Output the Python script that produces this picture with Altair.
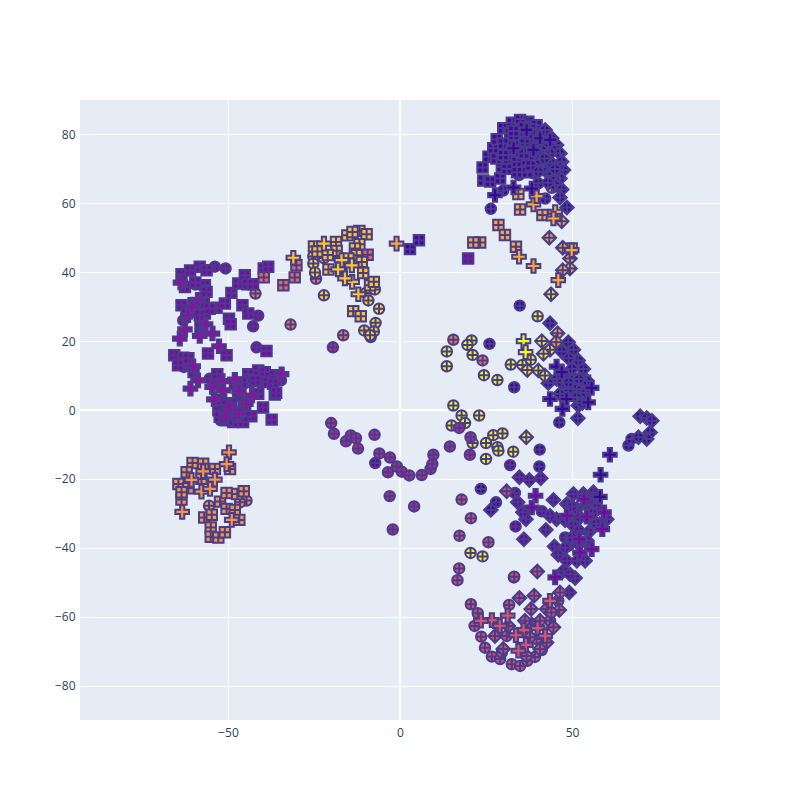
import altair as alt
import pandas as pd

X_TICKS = [-50, 0, 50]
Y_TICKS = [-80, -60, -40, -20, 0, 20, 40, 60, 80]
PLASMA = ["#0d0887", "#46039f", "#7201a8", "#9c179e", "#bd3786",
          "#d8576b", "#ed7953", "#fb9f3a", "#fdca26", "#f0f921"]

# Symbol outlines, unit box -1..1
SYMBOLS = {
    "circle": "M-.769,0A.769,.769 0 1,1 .769,0A.769,.769 0 1,1 -.769,0ZM-.769,0H.769M0,-.769V.769",
    "square": "M-.769,-.769H.769V.769H-.769ZM-.769,0H.769M0,-.769V.769",
    "diamond": "M-1,0L0,-1L1,0L0,1ZM-1,0H1M0,-1V1",
    "cross": "M-1,-.308H-.308V-1H.308V-.308H1V.308H.308V1H-.308V.308H-1Z",
}

# ---- circles ----
C_LEFT = [(-50.7,41.1),(-53.8,41.6),(-59.4,36.4),(-41.2,27.4),(-42.7,24.3),(-41.7,18.2),(-62.8,12.5),
          (-55.3,9.1),(-34.6,8.6),(-52.1,-3),(-63,26)]
C_ORANGE_TOP = [(-42,33.8),(-31.8,24.8),(-24.4,38.1),(-16.5,21.7),(15.5,20.4),(24,14.4),(44.1,64.5)]
C_YELLOW_TOP = [(-25.2,44.6),(-25.2,42.5),(-22.1,44.1),(-24.7,39.9),(-22.1,33.3),(-9.9,34),(-7.3,35),
                (-9.2,31.8),(-6.1,29.4),(-7.1,25.3),(-10.4,23.1),(-7.6,22.8),(-8.5,21.2),(-8.7,21.7)]
C_YELLOW_MID = [(40,27.2),(20.8,20.2),(19.6,18.9),(13.6,17),(21.1,16),(13.6,12.7),(24.4,10.1),(28.3,8.7),
                (32.2,13.2),(35.6,13.1),(38,14.6),(15.5,1.3),(17.9,-1.6),(18.9,-3.8),(15,-4.5),(23,-1.6),
                (27.1,-7.3),(29.8,-6.8),(25,-9.6),(21.1,-9.6),(28.3,-10.8),(28.6,-11.8),(32.9,-12.1),
                (25,-14.2),(20.5,-41.5),(24,-42.5)]
C_ARCH = [(-20,-3.8),(-19.2,-6.9),(-15.7,-9.1),(-14.3,-7.4),(-12.8,-8.2),(-12.2,-11.2),(-7.4,-7.2),(-6,-12.6),
          (-2.9,-13.8),(-3.5,-18.1),(-0.9,-16.4),(0.5,-17.9),(2.7,-19),(6.3,-18.9),(8.9,-17.1),(9.4,-15.7),
          (9.7,-13),(-3,-25),(4.1,-28),(-2.1,-34.7),(-19.5,18.2),(17.2,-5.2),(20.5,-7.9),(14.5,-10.6),(20.3,-13)]
C_PINK = [(17.9,-26),(20.6,-31.4),(17.3,-36.5),(25.7,-38.4),(17.2,-46),(16.7,-49.4),(33.1,-48.6),(33.2,-48.4),
          (20.6,-56.4),(22.6,-59),(31.7,-56.6),(21.7,-62.7),(23.6,-65.8),(24.7,-69),(26.7,-71.6),(29.1,-72.3),
          (32.5,-73.8),(34.9,-74.3),(37,-72.8),(39.2,-71.7),(41.2,-69.7),(39.7,-66.5),(43.6,-61.2),(46,-55.4),
          (31,-65.6),(29.6,-70.4)]
C_PURPLE = [(-7.2,-15.4),(32,-16),(33.6,-33.8),(33.4,-24.1),(41.2,-29.4),(48,-37),(49,-39.4)]
C_DARK = [(26.4,58.4),(30,63.7),(34.6,68.2),(38.8,68.7),(42.2,61.4),(40.2,65.8),(35.9,70.1),(34.8,30.3),(26,19.2),
          (33.2,6.6),(46.3,-3.6),(40.6,-11.5),(40.5,-16.4),(66.4,-10.3),(67.3,-8.4),(23.5,-22.9),(27.9,-26.8)]
C_ORANGE_LOW = [(-55.5,-27.8),(-44.6,-26.3),(-46.5,-26.8)]

# ---- squares ----
S_LEFT = [(-63.5,39.4),(-58.2,41.6),(-56.2,40.6),(-56.7,36.2),(-56.2,34.3),(-63.5,30.4),(-56.7,28),(-53.3,29.7),
          (-50.9,30.9),(-49,34),(-47,36.7),(-45.1,39.1),(-44.4,36.5),(-42.7,36.5),(-39.6,41.1),(-38.3,41.6),
          (-45.8,30.4),(-44.1,28),(-49.7,26.5),(-49.2,24.9),(-55.8,16.4),(-50.4,15.9),(-65.6,15.9),(-63,15.2),
          (-64.5,13),(-38.8,17.1),(-53.1,10.4),(-44.1,10.4),(-41.2,11.5),(-39.3,11),(-44.1,8.1),(-39.8,8.1),
          (-36.4,10.1),(-36.9,7.6),(-36.4,4.5),(-41.2,4.7),(-39.8,0.7),(-43.2,-1.8),(-37.3,-2.8),(-45.6,-3.5),
          (-48.5,-3.5),(-52.8,-0.1),(-52.4,-2),(-50,-3),(-58.2,27.5),(-55.3,29.4),(-62.5,35.7),(-61,40.5),
          (-59.5,37),(-60,31),(-57,31),(-62,28),(-61.5,15),(-60,11),(-58,24),(-48,7.5),(-46,8),(-42,8.5),
          (-36,5),(-47,4),(-45,1.5),(-49,2),(-50.5,-1),(-47,-1),(-52,3),(19.8,44)]
S_ORANGE_TOP = [(-39.6,38.5),(-33.9,36.2),(-30.6,38.5),(-30.1,42),(-9.4,45.1)]
S_YELLOW = [(-25,47.5),(-15.3,50.7),(-11.8,52),(-9.7,51),(-13.8,51.7),(-18.6,48.8),(-18.4,46.2),(-11.8,48.1),
            (-13.1,46.9),(-12.6,44.9),(-11.1,43),(-20.8,40.8),(-10.7,39.8),(-8.7,36.2),(-7.6,37.2),(-13.6,28.7),
            (-11.4,27.2),(-24,46),(-21,45),(-17,41),(-15,44)]
S_DARK = [(2.9,46.7),(5.5,49.3),(24,70.4),(24.2,66.6),(26.2,66.3),(29.1,67.2),(29.6,70.6),(25.7,73.5),(27.1,76),
          (28.1,78.6),(30,81.8),(32.5,83.4),(34.9,84.2),(37.3,83.7),(39.7,82.7),(32,80.3),(34.9,80.8),(30,77.4),
          (32.5,75.5),(31.5,72.6),(33.9,72.1),(36.8,72.6),(36.3,77.4),(39.2,77.9),(33,78.4),(37.3,80.3),(40.2,80.3),
          (35,75),(38,75),(31,70),(34,69),(37,69),(28,73),(30,74),(35,83),(33,81),(36,82),(38,81.5),(41,79),
          (42,77),(39,74),(36,74.5),(40,71),(38,71),(53.8,8.5),(50.9,4.2)]
S_GOLD = [(34.9,58.2),(41.4,56.6),(28.6,53.7),(30.5,50.8),(33.7,47.4),(23.3,48.6),(21.3,48.6),(34.4,62.7),(49.9,46.9)]
S_ORANGE_LOW = [(-60.3,-15.4),(-57.2,-15.6),(-53.8,-17.1),(-62,-18.1),(-64.4,-21.5),(-61.5,-22.7),(-63.5,-26),
                (-49.4,-17.1),(-57.7,-20),(-52.3,-26.6),(-50.4,-24.1),(-47.3,-24.4),(-45.4,-23.6),(-50.4,-28.7),
                (-48,-29),(-46.7,-31.9),(-56.9,-31.2),(-54.7,-30.4),(-55,-34.1),(-55,-36.8),(-52.8,-37),
                (-50.9,-35.5),(-63.5,-23.9)]

# ---- diamonds ----
D_DARK = [(42.2,81.3),(44.1,78.9),(45.5,76.9),(46.5,74.5),(47,72.1),(47.5,69.7),(46.5,67.2),(45,65.3),(43.1,77.4),
          (43.6,74.5),(44.1,71.6),(42.6,69.2),(40.7,72.6),(40.2,69.2),(41.2,75.5),(42,73),(44,68),(45,70),(43,66),
          (47,64),(46.5,61.7),(48.5,58.8),
          (43.6,25.2),(48.9,19.7),(50.4,17.5),(51.8,14.4),(53.3,11.9),(49.4,10.3),(45.5,9),(43.1,7.8),(54.3,8.5),
          (51.4,6.1),(48.9,6.1),(46.5,4.7),(51.4,3.7),(51.8,1.3),(51.7,-2.4),(47,17),(49,15),(50,12),(52,9),(47,8),
          (49,8),(54,5),(53,2),(69.8,-1.8),(71.7,-2.3),(73.2,-3.1),
          (72.7,-6.5),(71.7,-8.4),(69.3,-7.9),(26.4,-29)]
D_GOLD = [(47,54.8),(43.4,50),(47.3,47.1),(49.4,44),(49.4,41.1),(47.3,40.6),(45.8,22.3),(45.4,19.7)]
D_YELLOW = [(43.9,33.6),(41.2,20),(43.6,17.5),(41.7,16.3),(37,11.6),(40.2,11.5),(42.1,10),(36.7,-7.9)]
D_PURPLE = [(34.7,-19.5),(37.6,-20.3),(40.9,-19.8),(34.2,-26.8),(44.6,-26.1),(36.6,-31.7),(35.7,-29.7),(42.4,-34.8),
            (36,-37.5),(44.9,-39.6),(50.4,-24.4),(53.3,-24.4),(56.2,-23.9),(48.5,-27.3),(51.4,-28.7),(54.3,-27.3),
            (57.2,-28.3),(60.1,-31.7),(58.1,-33.1),(55.2,-31.2),(52.3,-31.2),(50.4,-33.6),(45.5,-31.7),(43.6,-30.7),
            (54.8,-35.5),(54.3,-37.9),(48.5,-43.8),(51.4,-43.8),(53.8,-43.8),(47.5,-46.7),(50.9,-48.8),(49.4,-47.7),
            (49.2,-53),(56,-30),(52,-35),(50,-28),(57,-33),(55,-26),(48,-32),(52,-39),(50,-37),(46,-42),(48,-40)]
D_PINK = [(31,-23.6),(39.9,-46.9),(34.7,-54.6),(39,-53.9),(38.1,-57.8),(27.6,-65.6),(30,-69.4),(31.5,-62.7),
          (38.3,-62.2),(40.7,-61.2),(42.6,-57.8),(46.5,-53),(46.3,-58.1),(44.6,-63.1),(42.6,-67.5),(37.8,-66),
          (40.7,-69.4),(36.8,-71.4),(36.3,-61.2),(44,-58.8)]

# ---- crosses ----
X_LEFT = [(-63.8,37),(-58.7,32),(-60.4,29.9),(-61.6,27.5),(-62.5,23.4),(-56.5,24.9),(-64,20.7),(-58.2,21.5),
          (-54.5,22.2),(-52.6,18.5),(-60.1,12.7),(-58.7,8.6),(-60.9,6.2),(-54.6,6.7),(-51.6,8.4),(-48,8.8),
          (-51.4,5.7),(-46.8,5.5),(-54.1,3.1),(-44.8,1.8),(-43,4.2),(-49.5,0.9),(-50.7,-1.8),(-46.8,-1.1),(-34.4,10.4)]
X_YELLOW = [(-22.1,48.3),(-17,43.5),(-14,42),(-18,40.8),(-13.9,37.2),(-12.1,33.6),(-16,38.2),(-31,44.2)]
X_GOLD = [(-1,48.3),(38.8,59.7),(39.7,62.1),(45.1,57.5),(44.6,55.6),(34.6,44.5),(38.8,41.8),(49.9,46.4),(46,37.7)]
X_LIME = [(35.9,20),(36.5,16.8)]
X_DARK = [(27.6,62.4),(33,64.6),(38.3,64.3),(33,76),(38.8,75.5),(36.8,81.3),(40.7,78.9),(43.6,78.4),(45.5,12.6),
          (47,11),(55.7,6.4),(43.6,3.2),(48.4,3.2),(54.7,2.2),(47.2,0.3),(61,-13),(58.3,-18.8),(58.1,-25.2)]
X_PURPLE = [(39.4,-24.9),(38.3,-28.3),(53.5,-25.9),(48.5,-30.7),(54.3,-31),(59.3,-29.7),(58.8,-34.6),(52.1,-37.5),
            (55.7,-40.4),(52.3,-41.4),(45.1,-48.6)]
X_PINK = [(26.7,-61),(23.5,-61.2),(31.3,-59.7),(29,-62.7),(35.9,-63.9),(40,-63.3),(42.2,-65.6),(33.7,-65.4),
          (36.6,-68.2),(34.4,-69.9),(43.6,-55.4)]
X_ORANGE_LOW = [(-49.7,-12.3),(-50.4,-15.7),(-57.2,-17.8),(-60.6,-20.3),(-53.8,-20.2),(-57.7,-23.7),(-55.2,-22.9),
                (-63.3,-29.6),(-48.9,-31.9)]

# (symbol, colour value, points); earlier groups sit underneath
GROUPS = [
    ("circle", 0.27, C_LEFT), ("circle", 0.66, C_ORANGE_TOP), ("circle", 0.92, C_YELLOW_TOP),
    ("circle", 1.0, C_YELLOW_MID), ("circle", 0.4, C_ARCH), ("circle", 0.53, C_PINK),
    ("circle", 0.2, C_PURPLE), ("circle", 0.09, C_DARK), ("circle", 0.75, C_ORANGE_LOW),
    ("square", 0.26, S_LEFT), ("square", 0.62, S_ORANGE_TOP), ("square", 0.88, S_YELLOW),
    ("square", 0.11, S_DARK), ("square", 0.8, S_GOLD), ("square", 0.75, S_ORANGE_LOW),
    ("diamond", 0.08, D_DARK), ("diamond", 0.8, D_GOLD), ("diamond", 0.97, D_YELLOW),
    ("diamond", 0.2, D_PURPLE), ("diamond", 0.53, D_PINK),
    ("cross", 0.3, X_LEFT), ("cross", 0.88, X_YELLOW), ("cross", 0.8, X_GOLD), ("cross", 1.0, X_LIME),
    ("cross", 0.08, X_DARK), ("cross", 0.24, X_PURPLE), ("cross", 0.55, X_PINK), ("cross", 0.75, X_ORANGE_LOW),
]

rows = [{"x": p[0], "y": p[1], "v": v, "s": s} for s, v, pts in GROUPS for p in pts]
df = pd.DataFrame(rows)

x_scale = alt.Scale(domain=[-93, 93], nice=False, zero=False)
y_scale = alt.Scale(domain=[-90, 90], nice=False, zero=False)

axis_common = dict(
    grid=True, gridColor="white", gridWidth=1, domain=False, ticks=False,
    labelFont="Open Sans", labelFontSize=12, labelColor="#2a3f5f", title=None,
)
x_axis = alt.Axis(values=X_TICKS, labelPadding=7, format="d", **axis_common)
y_axis = alt.Axis(values=Y_TICKS, labelPadding=5, format="d", **axis_common)

zero_v = alt.Chart(pd.DataFrame({"x": [0]})).mark_rule(color="white", strokeWidth=2).encode(
    x=alt.X("x:Q", scale=x_scale, axis=x_axis))
zero_h = alt.Chart(pd.DataFrame({"y": [0]})).mark_rule(color="white", strokeWidth=2).encode(
    y=alt.Y("y:Q", scale=y_scale, axis=y_axis))

points = alt.Chart(df).mark_point(filled=True, opacity=1, stroke="#483D8B", strokeWidth=2, size=185).encode(
    x=alt.X("x:Q", scale=x_scale, axis=x_axis),
    y=alt.Y("y:Q", scale=y_scale, axis=y_axis),
    fill=alt.Fill("v:Q", scale=alt.Scale(domain=[i / 9 for i in range(10)], range=PLASMA), legend=None),
    shape=alt.Shape("s:N", scale=alt.Scale(domain=list(SYMBOLS.keys()), range=list(SYMBOLS.values())), legend=None),
)

chart = alt.layer(zero_v, zero_h, points).resolve_scale(x="shared", y="shared").properties(
    width=640, height=620,
    padding={"left": 72, "top": 92, "right": 72, "bottom": 72},
    autosize=alt.AutoSizeParams(type="none"),
    background="white",
).configure_view(fill="#E5ECF6", strokeWidth=0)

chart.save("out.html", embed_options={"renderer": "svg", "actions": False})
